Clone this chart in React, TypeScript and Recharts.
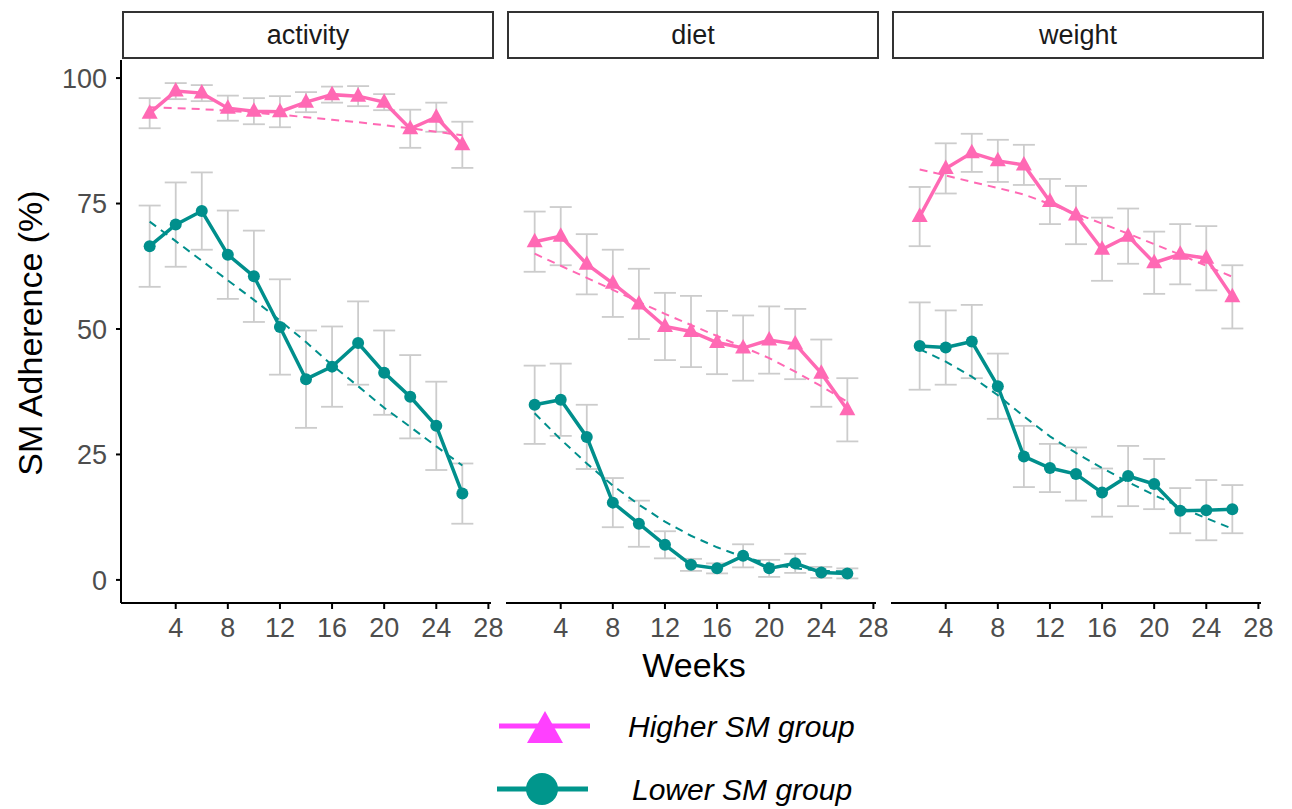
import React from "react";
import { ComposedChart, Line, XAxis, YAxis, ErrorBar } from "recharts";

// weeks of follow-up
const weeks = [2, 4, 6, 8, 10, 12, 14, 16, 18, 20, 22, 24, 26];
const weekTicks = [4, 8, 12, 16, 20, 24, 28];
const pctTicks = [0, 25, 50, 75, 100];

// activity
const activityHigh = [93.0, 97.4, 97.0, 94.0, 93.4, 93.3, 95.2, 96.7, 96.4, 95.2, 89.9, 92.2, 86.7];
const activityHighErr = [3.0, 1.6, 1.6, 2.5, 2.6, 3.1, 2.0, 1.6, 2.0, 1.6, 3.8, 2.9, 4.6];
const activityLow = [66.5, 70.8, 73.5, 64.8, 60.5, 50.4, 40.0, 42.5, 47.2, 41.3, 36.5, 30.7, 17.2];
const activityLowErr = [8.1, 8.4, 7.7, 8.8, 9.1, 9.5, 9.7, 8.0, 8.3, 8.4, 8.3, 8.8, 6.0];
const activityHighFit = [94.2, 94.0, 93.8, 93.5, 93.1, 92.7, 92.2, 91.7, 91.2, 90.6, 90.0, 89.3, 88.6];
const activityLowFit = [71.4, 67.5, 63.6, 59.7, 55.8, 51.7, 47.4, 42.8, 38.6, 34.3, 30.5, 26.6, 22.8];

// diet
const dietHigh = [67.4, 68.5, 62.9, 59.1, 55.0, 50.5, 49.5, 47.3, 46.2, 47.8, 47.0, 41.2, 33.9];
const dietHighErr = [6.0, 5.8, 6.0, 6.7, 7.0, 6.7, 7.1, 6.3, 6.5, 6.7, 7.0, 6.7, 6.3];
const dietLow = [34.9, 35.9, 28.5, 15.4, 11.2, 7.0, 3.0, 2.3, 4.8, 2.3, 3.3, 1.5, 1.3];
const dietLowErr = [7.8, 7.2, 6.4, 4.9, 4.6, 2.7, 1.2, 1.0, 2.3, 1.7, 1.9, 1.1, 1.0];
const dietHighFit = [65.0, 62.6, 60.2, 57.8, 55.4, 53.0, 50.8, 48.6, 46.4, 44.2, 41.5, 38.6, 35.5];
const dietLowFit = [33.2, 28.0, 23.2, 18.8, 15.0, 11.6, 8.8, 6.5, 4.6, 3.2, 2.3, 1.8, 1.7];

// weight
const weightHigh = [72.4, 82.0, 85.1, 83.5, 82.7, 75.4, 72.7, 65.9, 68.5, 63.2, 64.9, 64.1, 56.4];
const weightHighErr = [5.9, 5.0, 3.8, 4.2, 4.0, 4.5, 5.8, 6.3, 5.5, 6.2, 6.0, 6.4, 6.3];
const weightLow = [46.6, 46.3, 47.5, 38.6, 24.6, 22.3, 21.1, 17.4, 20.7, 19.1, 13.8, 13.9, 14.1];
const weightLowErr = [8.7, 7.4, 7.3, 6.5, 6.1, 4.8, 5.3, 4.8, 6.0, 5.0, 4.5, 6.0, 4.8];
const weightHighFit = [81.8, 80.6, 79.3, 78.1, 76.8, 74.9, 73.0, 71.0, 69.0, 66.9, 64.8, 62.6, 60.4];
const weightLowFit = [46.0, 43.5, 40.5, 36.8, 32.6, 28.6, 25.3, 22.3, 19.5, 16.9, 14.5, 12.3, 10.2];

const PINK = "#FF69B4";
const TEAL = "#008F8C";
const GREY_BAR = "#CCCCCC";
const FONT = "'Liberation Sans', Arial, sans-serif";

const buildRows = (hi, hiErr, lo, loErr, hiFit, loFit) =>
  weeks.map((w, i) => ({
    week: w,
    hi: hi[i],
    hiErr: hiErr[i],
    lo: lo[i],
    loErr: loErr[i],
    hiFit: hiFit[i],
    loFit: loFit[i],
  }));

const panels = [
  { name: "activity", left: 0, rows: buildRows(activityHigh, activityHighErr, activityLow, activityLowErr, activityHighFit, activityLowFit) },
  { name: "diet", left: 506, rows: buildRows(dietHigh, dietHighErr, dietLow, dietLowErr, dietHighFit, dietLowFit) },
  { name: "weight", left: 891, rows: buildRows(weightHigh, weightHighErr, weightLow, weightLowErr, weightHighFit, weightLowFit) },
];

const Triangle = (props: any) => {
  const { cx, cy } = props;
  if (cx == null || cy == null) return null;
  return (
    <polygon
      points={`${cx},${cy - 9} ${cx - 8},${cy + 5.5} ${cx + 8},${cy + 5.5}`}
      fill={PINK}
    />
  );
};

const PLOT_W = 370;
const PLOT_H = 543;
const AXIS_H = 80;
const Y_AXIS_W = 121;
const RIGHT_PAD = 24; // room for the "28" tick label

function Panel({ name, left, rows, first }) {
  const width = (first ? Y_AXIS_W + PLOT_W : PLOT_W) + RIGHT_PAD;
  return (
    <>
      <div
        style={{
          position: "absolute",
          left: (first ? Y_AXIS_W : left) + 1,
          top: 11,
          width: PLOT_W - 2,
          height: 44,
          border: "2px solid #333",
          background: "#fff",
          display: "flex",
          alignItems: "center",
          justifyContent: "center",
          fontFamily: FONT,
          fontSize: 27,
          color: "#1a1a1a",
        }}
      >
        {name}
      </div>
      <div style={{ position: "absolute", left, top: 60 }}>
        <ComposedChart
          width={width}
          height={PLOT_H + AXIS_H}
          data={rows}
          margin={{ top: 0, right: RIGHT_PAD, bottom: 0, left: 0 }}
        >
          <XAxis
            type="number"
            dataKey="week"
            domain={[-0.2, 28.2]}
            ticks={weekTicks}
            allowDataOverflow
            height={AXIS_H}
            tickSize={6}
            tickMargin={9}
            axisLine={{ stroke: "#000", strokeWidth: 2 }}
            tickLine={{ stroke: "#000", strokeWidth: 2 }}
            tick={{ fill: "#4D4D4D", fontSize: 27, fontFamily: FONT }}
          />
          <YAxis
            type="number"
            domain={[-4.6, 103.6]}
            ticks={pctTicks}
            allowDataOverflow
            hide={!first}
            width={Y_AXIS_W}
            tickSize={5}
            tickMargin={9}
            axisLine={{ stroke: "#000", strokeWidth: 2 }}
            tickLine={{ stroke: "#000", strokeWidth: 2 }}
            tick={{ fill: "#4D4D4D", fontSize: 27, fontFamily: FONT }}
          />
          <Line dataKey="hi" stroke="none" dot={false} activeDot={false} isAnimationActive={false}>
            <ErrorBar dataKey="hiErr" width={11} stroke={GREY_BAR} strokeWidth={1.8} />
          </Line>
          <Line dataKey="lo" stroke="none" dot={false} activeDot={false} isAnimationActive={false}>
            <ErrorBar dataKey="loErr" width={11} stroke={GREY_BAR} strokeWidth={1.8} />
          </Line>
          <Line
            dataKey="hiFit"
            type="linear"
            stroke={PINK}
            strokeWidth={2}
            strokeDasharray="8 6"
            dot={false}
            activeDot={false}
            isAnimationActive={false}
          />
          <Line
            dataKey="loFit"
            type="linear"
            stroke={TEAL}
            strokeWidth={2}
            strokeDasharray="8 6"
            dot={false}
            activeDot={false}
            isAnimationActive={false}
          />
          <Line
            dataKey="lo"
            type="linear"
            stroke={TEAL}
            strokeWidth={3.5}
            dot={{ r: 6, fill: TEAL, stroke: "none" }}
            activeDot={false}
            isAnimationActive={false}
          />
          <Line
            dataKey="hi"
            type="linear"
            stroke={PINK}
            strokeWidth={3.5}
            dot={(p: any) => <Triangle key={`t-${p.index}`} {...p} />}
            activeDot={false}
            isAnimationActive={false}
          />
        </ComposedChart>
      </div>
    </>
  );
}

export default function App() {
  return (
    <div
      style={{
        position: "absolute",
        left: 0,
        top: 0,
        width: 1292,
        height: 809,
        background: "#fff",
        overflow: "hidden",
      }}
    >
      {panels.map((p, i) => (
        <Panel key={p.name} {...p} first={i === 0} />
      ))}
      <svg
        width={1292}
        height={809}
        style={{ position: "absolute", left: 0, top: 0, pointerEvents: "none" }}
        fontFamily={FONT}
      >
        <text
          x={0}
          y={0}
          transform="translate(42,333) rotate(-90)"
          textAnchor="middle"
          fontSize={34}
          fill="#000"
        >
          SM Adherence (%)
        </text>
        <text x={694} y={677} textAnchor="middle" fontSize={34} fill="#000">
          Weeks
        </text>
        <line x1={499} y1={726} x2={590} y2={726} stroke="#FF40FF" strokeWidth={5} />
        <polygon points="545,711 527,743 563,743" fill="#FF40FF" />
        <text x={628} y={737} fontSize={30} fontStyle="italic" fill="#000">
          Higher SM group
        </text>
        <line x1={497} y1={789} x2={588} y2={789} stroke="#00968C" strokeWidth={5} />
        <circle cx={542} cy={789} r={16} fill="#00968C" />
        <text x={632} y={800} fontSize={30} fontStyle="italic" fill="#000">
          Lower SM group
        </text>
      </svg>
    </div>
  );
}
